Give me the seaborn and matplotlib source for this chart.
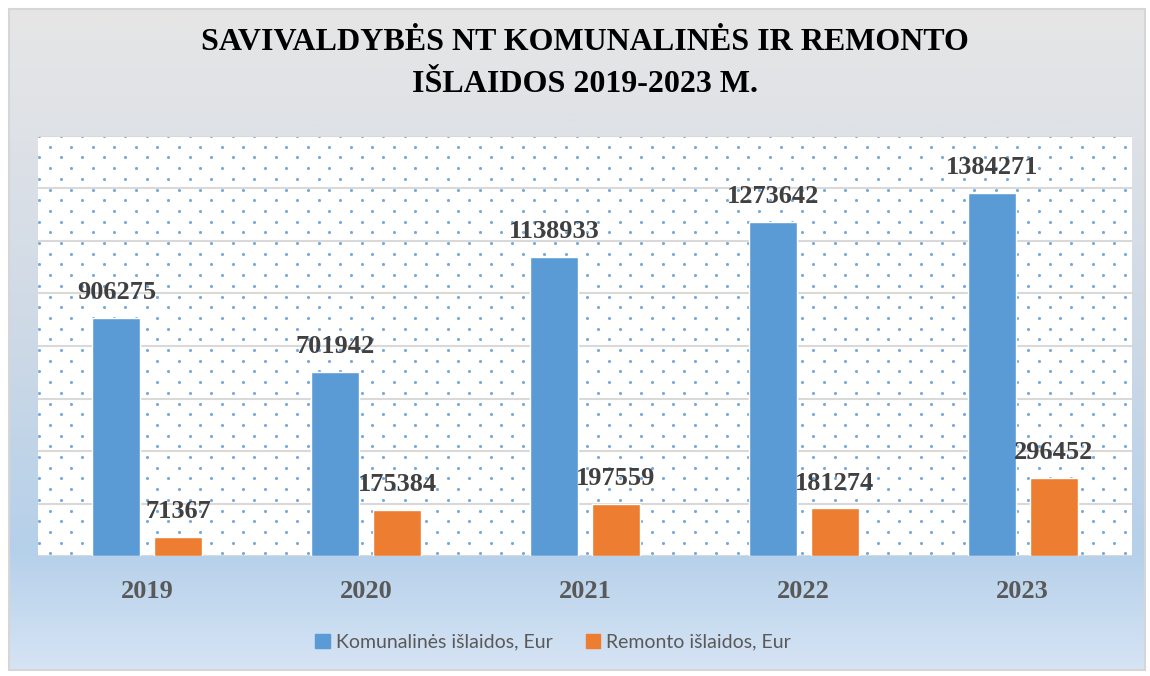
import numpy as np
import pandas as pd
import seaborn as sns
import matplotlib.pyplot as plt
from matplotlib.colors import LinearSegmentedColormap
from matplotlib.patches import Rectangle

years = ["2019", "2020", "2021", "2022", "2023"]
komunalines = [906275, 701942, 1138933, 1273642, 1384271]
remonto = [71367, 175384, 197559, 181274, 296452]
series_names = ["Komunalinės išlaidos, Eur", "Remonto išlaidos, Eur"]
title_lines = ["SAVIVALDYBĖS NT KOMUNALINĖS IR REMONTO", "IŠLAIDOS 2019-2023 M."]

df = pd.DataFrame({
    "Metai": years * 2,
    "Suma": komunalines + remonto,
    "Serija": [series_names[0]] * 5 + [series_names[1]] * 5,
})

sns.set_theme(style="white")
plt.rcParams["font.family"] = ["Liberation Serif", "DejaVu Serif"]

W, H = 1150, 676
fig = plt.figure(figsize=(W / 100, H / 100), dpi=100)
fig.patch.set_facecolor("white")

# background gradient of the chart frame
bg = fig.add_axes([0, 0, 1, 1], zorder=-10)
bg.set_axis_off()
cmap = LinearSegmentedColormap.from_list("bg", [
    (0.0, "#e6e6e6"), (0.18, "#dfe2e6"), (0.5, "#cdd9e6"),
    (0.82, "#b5d0ea"), (1.0, "#d6e4f4")])
grad = np.linspace(0, 1, 256).reshape(-1, 1)
bg.imshow(grad, cmap=cmap, aspect="auto", extent=[9, 1145, 670, 9])
bg.set_xlim(0, W)
bg.set_ylim(H, 0)
bg.add_patch(Rectangle((9, 9), 1136, 661, fill=False, edgecolor="#d6d6d6", lw=1.5))

# plot area
x0, x1, y_top, y_bot = 38, 1132, 136, 556
ax = fig.add_axes([x0 / W, 1 - y_bot / H, (x1 - x0) / W, (y_bot - y_top) / H])
ax.set_facecolor("white")

# dotted fill pattern
pw, ph = x1 - x0, y_bot - y_top
dots = []
for r, yy in enumerate(np.arange(0, ph, 10.7)):
    off = 0 if r % 2 == 0 else 10.75
    for xx in np.arange(off + 1, pw, 21.5):
        dots.append((xx / pw, 1 - yy / ph))
dots = np.array(dots)
ax.scatter(dots[:, 0], dots[:, 1], s=5, color="#74aade", linewidths=0,
           transform=ax.transAxes, zorder=0, clip_on=True)

sns.barplot(data=df, x="Metai", y="Suma", hue="Serija", ax=ax,
            palette=["#5b9bd5", "#ed7d31"], width=0.567, gap=0.224,
            saturation=1, legend=False, zorder=3)

ax.set_ylim(0, 1600000)
ax.set_yticks(np.arange(0, 1600001, 200000))
ax.yaxis.grid(True, color="#d9d9d9", lw=1.5, zorder=1)
ax.set_axisbelow(False)
ax.set_yticklabels([])
ax.tick_params(axis="y", length=0)
ax.tick_params(axis="x", length=0, pad=17)
for lbl in ax.get_xticklabels():
    lbl.set_fontweight("bold")
    lbl.set_fontsize(19)
    lbl.set_color("#595959")
ax.set_xlabel("")
ax.set_ylabel("")
for s in ax.spines.values():
    s.set_visible(False)
ax.set_xlim(-0.5, 4.5)

for cont in ax.containers:
    ax.bar_label(cont, fmt="%d", padding=10, fontsize=19, fontweight="bold",
                 color="#404040")

for line, yc in zip(title_lines, [43, 84]):
    fig.text(585 / W, 1 - yc / H, line, ha="center", va="center", fontsize=23,
             fontweight="bold", color="black")

handles = [Rectangle((0, 0), 1, 1, color=c) for c in ["#5b9bd5", "#ed7d31"]]
fig.legend(handles, series_names, loc="center", bbox_to_anchor=(553 / W, 1 - 642 / H),
           ncol=2, frameon=False, handlelength=0.75, handleheight=0.75,
           handletextpad=0.3, columnspacing=1.7,
           prop={"family": ["Lato", "DejaVu Sans"], "size": 14}, labelcolor="#595959")

fig.savefig("out.png", dpi=100)
